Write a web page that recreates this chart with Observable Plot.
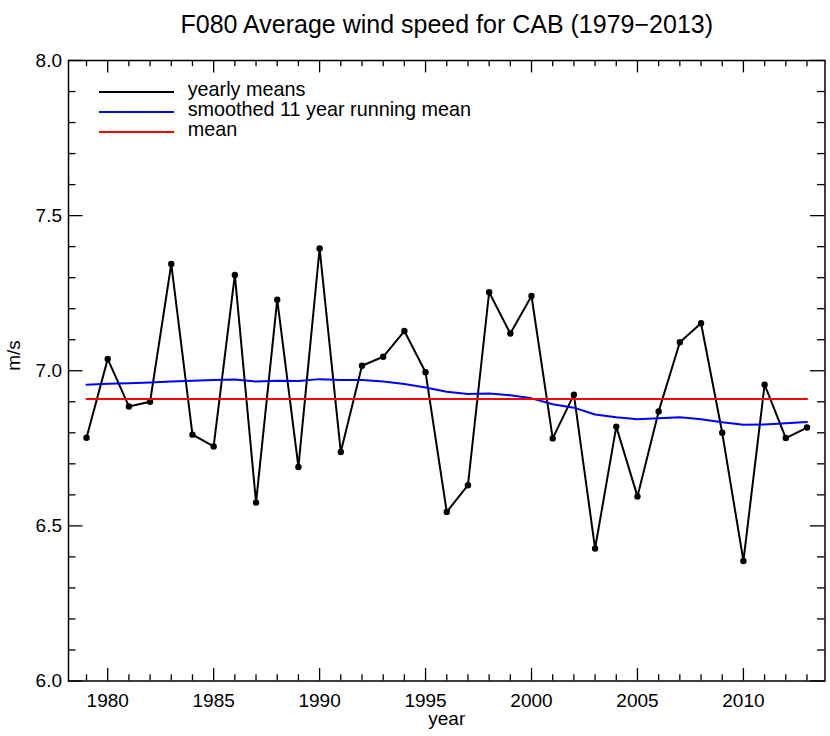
<!DOCTYPE html>
<html>
<head>
<meta charset="utf-8">
<script src="https://cdn.jsdelivr.net/npm/d3@7"></script>
<script src="https://cdn.jsdelivr.net/npm/@observablehq/plot@0.6"></script>
<style>
  html, body { margin: 0; padding: 0; background: #fff; }
  #wrap { position: relative; width: 830px; height: 736px; font-family: "Liberation Sans", Arial, Helvetica, sans-serif; }
  #legend { position: absolute; left: 99px; top: 80.3px; }
  .row { position: relative; height: 19.7px; width: 400px; }
  .sw { position: absolute; left: 0; top: 11px; width: 75px; height: 0; border-top: 2px solid #000; }
  .lb { position: absolute; left: 88.7px; top: 0; font-size: 19.8px; line-height: 19.7px; white-space: nowrap; color: #000; }
</style>
</head>
<body>
<div id="wrap"></div>
<script>
// ---- data ----
const title = "F080 Average wind speed for CAB (1979\u22122013)";
const years = [1979,1980,1981,1982,1983,1984,1985,1986,1987,1988,1989,1990,1991,1992,1993,1994,1995,1996,1997,1998,1999,2000,2001,2002,2003,2004,2005,2006,2007,2008,2009,2010,2011,2012,2013];
const yearlyMeans = [6.784,7.038,6.885,6.900,7.344,6.794,6.756,7.309,6.575,7.229,6.690,7.394,6.738,7.016,7.045,7.128,6.995,6.545,6.631,7.253,7.120,7.241,6.782,6.923,6.427,6.820,6.595,6.869,7.092,7.153,6.800,6.387,6.955,6.783,6.817];
const smoothed = [6.955,6.958,6.960,6.962,6.965,6.968,6.970,6.972,6.965,6.968,6.967,6.973,6.970,6.970,6.965,6.957,6.946,6.932,6.925,6.927,6.921,6.911,6.892,6.881,6.859,6.850,6.844,6.847,6.850,6.844,6.834,6.826,6.827,6.831,6.835];
const xMajorTicks = [1980,1985,1990,1995,2000,2005,2010];
const xMinorTicks = [1979,1981,1982,1983,1984,1986,1987,1988,1989,1991,1992,1993,1994,1996,1997,1998,1999,2001,2002,2003,2004,2006,2007,2008,2009,2011,2012,2013];
const yMajorTicks = [6.0,6.5,7.0,7.5,8.0];
const yMinorTicks = [6.1,6.2,6.3,6.4,6.6,6.7,6.8,6.9,7.1,7.2,7.3,7.4,7.6,7.7,7.8,7.9];
const legendItems = [
  {label: "yearly means", color: "#000000"},
  {label: "smoothed 11 year running mean", color: "#0000ff"},
  {label: "mean", color: "#ff0000"}
];
const xLabel = "year";
const yLabel = "m/s";

// ---- tables ----
const yearly = years.map((y, i) => ({year: y, value: yearlyMeans[i]}));
const smooth = years.map((y, i) => ({year: y, value: smoothed[i]}));
const meanValue = d3.mean(yearlyMeans);
const meanLine = years.map(y => ({year: y, value: meanValue}));

const W = 830, H = 736;
const mL = 68, mR = 5.5, mT = 60, mB = 55.5;
const fw = W - mL - mR, fh = H - mT - mB;
const font = '"Liberation Sans", Arial, Helvetica, sans-serif';

const chart = Plot.plot({
  width: W,
  height: H,
  marginLeft: mL,
  marginRight: mR,
  marginTop: mT,
  marginBottom: mB,
  style: {fontFamily: font, fontSize: "19px", color: "#000", background: "#fff"},
  x: {domain: [1978.15, 2013.85], axis: null},
  y: {domain: [6, 8], axis: null},
  marks: [
    // tick marks (inward, IDL style)
    Plot.ruleX(xMajorTicks, {x: d => d, insetTop: fh - 12.4, stroke: "#000", strokeWidth: 1.3}),
    Plot.ruleX(xMajorTicks, {x: d => d, insetBottom: fh - 12.4, stroke: "#000", strokeWidth: 1.3}),
    Plot.ruleX(xMinorTicks, {x: d => d, insetTop: fh - 6.2, stroke: "#000", strokeWidth: 1.3}),
    Plot.ruleX(xMinorTicks, {x: d => d, insetBottom: fh - 6.2, stroke: "#000", strokeWidth: 1.3}),
    Plot.ruleY(yMajorTicks, {y: d => d, insetRight: fw - 14.5, stroke: "#000", strokeWidth: 1.3}),
    Plot.ruleY(yMajorTicks, {y: d => d, insetLeft: fw - 14.5, stroke: "#000", strokeWidth: 1.3}),
    Plot.ruleY(yMinorTicks, {y: d => d, insetRight: fw - 7.5, stroke: "#000", strokeWidth: 1.3}),
    Plot.ruleY(yMinorTicks, {y: d => d, insetLeft: fw - 7.5, stroke: "#000", strokeWidth: 1.3}),
    // tick labels
    Plot.text(xMajorTicks, {x: d => d, text: d => String(d), frameAnchor: "bottom", lineAnchor: "bottom", dy: 25.5, fontSize: 19, fill: "#000"}),
    Plot.text(yMajorTicks, {y: d => d, text: d => d3.format(".1f")(d), frameAnchor: "left", textAnchor: "end", dx: -6.5, fontSize: 19, fill: "#000"}),
    // data
    Plot.line(yearly, {x: "year", y: "value", stroke: "#000", strokeWidth: 2}),
    Plot.dot(yearly, {x: "year", y: "value", r: 3.2, fill: "#000", stroke: "none"}),
    Plot.line(smooth, {x: "year", y: "value", stroke: "#0000ff", strokeWidth: 2}),
    Plot.line(meanLine, {x: "year", y: "value", stroke: "#ff0000", strokeWidth: 2}),
    Plot.frame({stroke: "#000", strokeWidth: 1.5}),
    // titles
    Plot.text([title], {text: d => d, frameAnchor: "top", dy: -45, fontSize: 25, fill: "#000"}),
    Plot.text([xLabel], {text: d => d, frameAnchor: "bottom", dy: 44, fontSize: 19, fill: "#000"}),
    Plot.text([yLabel], {text: d => d, frameAnchor: "left", dx: -54.5, rotate: -90, fontSize: 19, fill: "#000"})
  ]
});

const wrap = document.getElementById("wrap");
wrap.appendChild(chart);

const legend = document.createElement("div");
legend.id = "legend";
for (const item of legendItems) {
  const row = document.createElement("div");
  row.className = "row";
  const sw = document.createElement("div");
  sw.className = "sw";
  sw.style.borderTopColor = item.color;
  const lb = document.createElement("div");
  lb.className = "lb";
  lb.textContent = item.label;
  row.appendChild(sw);
  row.appendChild(lb);
  legend.appendChild(row);
}
wrap.appendChild(legend);
</script>
</body>
</html>
